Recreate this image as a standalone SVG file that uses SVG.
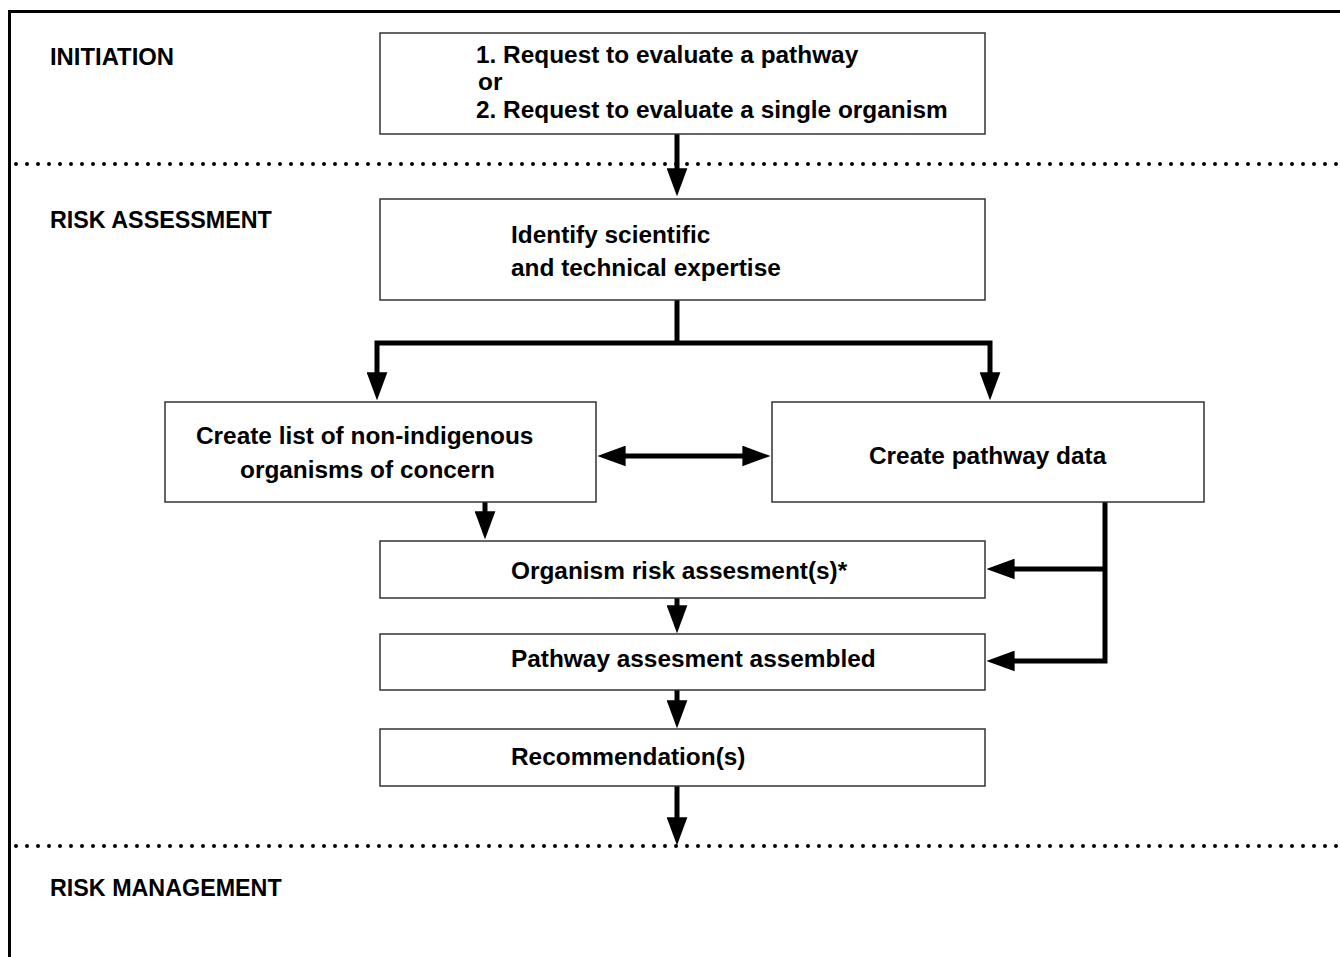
<svg xmlns="http://www.w3.org/2000/svg" width="1340" height="957" viewBox="0 0 1340 957">
<defs>
<marker id="ah" markerUnits="userSpaceOnUse" markerWidth="28" markerHeight="21" refX="17" refY="10" orient="auto-start-reverse" viewBox="0 0 27 20">
<path d="M0,0 L27,10 L0,20 z" fill="#000"/>
</marker>
<style>
.box{fill:#fff;stroke:#333;stroke-width:1.5}
.t{font-family:"Liberation Sans",Arial,sans-serif;font-weight:bold;font-size:24.4px;fill:#000}
.l{font-family:"Liberation Sans",Arial,sans-serif;font-weight:bold;font-size:23.3px;fill:#000}
.c{fill:none;stroke:#000;stroke-width:5}
.dot{fill:none;stroke:#000;stroke-width:4;stroke-linecap:round;stroke-dasharray:0 11}
</style>
</defs>
<rect width="1340" height="957" fill="#fff"/>
<g id="frame">
<path d="M9.5,957 V11.5 H1340" fill="none" stroke="#000" stroke-width="3"/>
<line class="dot" x1="16" y1="164" x2="1340" y2="164"/>
<line class="dot" x1="16" y1="846" x2="1340" y2="846"/>
<text class="l" x="50" y="65" textLength="124" lengthAdjust="spacingAndGlyphs">INITIATION</text>
<text class="l" x="50" y="228">RISK ASSESSMENT</text>
<text class="l" x="50" y="896">RISK MANAGEMENT</text>
</g>
<g id="connectors">
<line class="c" x1="677" y1="134" x2="677" y2="186" marker-end="url(#ah)"/>
<path class="c" d="M677,300 V343"/>
<path class="c" d="M677,343 H377 V390" marker-end="url(#ah)"/>
<path class="c" d="M677,343 H990 V390" marker-end="url(#ah)"/>
<line class="c" x1="608" y1="456" x2="760" y2="456" marker-start="url(#ah)" marker-end="url(#ah)"/>
<line class="c" x1="485" y1="502" x2="485" y2="529" marker-end="url(#ah)"/>
<path class="c" d="M1105,502 V661 H997" marker-end="url(#ah)"/>
<line class="c" x1="1105" y1="569" x2="997" y2="569" marker-end="url(#ah)"/>
<line class="c" x1="677" y1="598" x2="677" y2="623" marker-end="url(#ah)"/>
<line class="c" x1="677" y1="690" x2="677" y2="718" marker-end="url(#ah)"/>
<line class="c" x1="677" y1="786" x2="677" y2="835" marker-end="url(#ah)"/>
</g>
<g id="request">
<rect class="box" x="380" y="33" width="605" height="101"/>
<text class="t" x="476" y="63">1. Request to evaluate a pathway</text>
<text class="t" x="478" y="90">or</text>
<text class="t" x="476" y="118">2. Request to evaluate a single organism</text>
</g>
<g id="identify">
<rect class="box" x="380" y="199" width="605" height="101"/>
<text class="t" x="511" y="243">Identify scientific</text>
<text class="t" x="511" y="276">and technical expertise</text>
</g>
<g id="list">
<rect class="box" x="165" y="402" width="431" height="100"/>
<text class="t" x="196" y="444">Create list of non-indigenous</text>
<text class="t" x="240" y="478">organisms of concern</text>
</g>
<g id="pathway">
<rect class="box" x="772" y="402" width="432" height="100"/>
<text class="t" x="869" y="464">Create pathway data</text>
</g>
<g id="organism">
<rect class="box" x="380" y="541" width="605" height="57"/>
<text class="t" x="511" y="579">Organism risk assesment(s)*</text>
</g>
<g id="assembled">
<rect class="box" x="380" y="634" width="605" height="56"/>
<text class="t" x="511" y="667">Pathway assesment assembled</text>
</g>
<g id="recommendation">
<rect class="box" x="380" y="729" width="605" height="57"/>
<text class="t" x="511" y="765">Recommendation(s)</text>
</g>
</svg>
